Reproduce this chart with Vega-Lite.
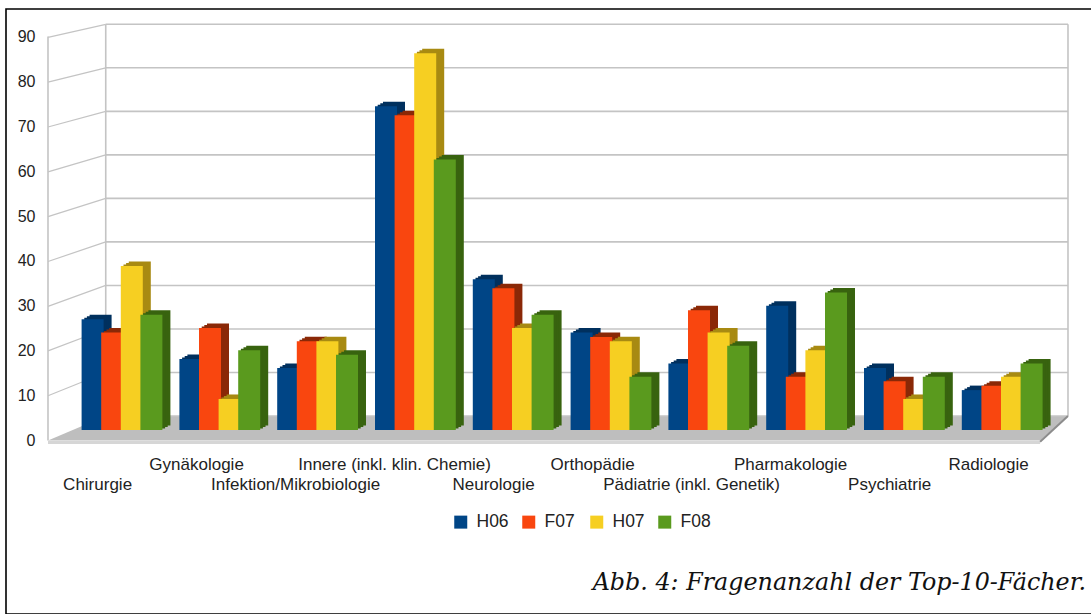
{"$schema":"https://vega.github.io/schema/vega-lite/v6.json","width":1090,"height":605,"padding":{"left":6,"top":9,"right":0,"bottom":0},"autosize":{"type":"none"},"background":"white","view":{"stroke":"#000","strokeWidth":1.6},
"title":{"text":"Abb. 4: Fragenanzahl der Top-10-Fächer.","orient":"bottom","anchor":"end","offset":-43,"dx":-10,"font":"DejaVu Serif","fontStyle":"italic","fontWeight":"normal","fontSize":23.8,"color":"#111"},
"config":{"axis":{"grid":false},"font":"Liberation Sans"},
"resolve":{"scale":{"x":"independent","y":"independent"},"axis":{"x":"independent","y":"independent"}},
"layer":[
{"data":{"values":[{"x":-0.6,"o":-5.62,"u":-5.62},{"x":0,"o":0,"u":-5.62},{"x":9.71,"o":0,"u":-5.62},{"x":10,"o":0,"u":0}]},"mark":{"type":"area","orient":"vertical","color":"#BEBEBE"},"encoding":{"x":{"field":"x","type":"quantitative","scale":{"domain":[-0.6,10],"range":[42,1062]},"axis":null},"y":{"field":"o","type":"quantitative","scale":{"domain":[0,90],"range":[407,15.3]},"axis":null},"y2":{"field":"u"}}},
{"data":{"values":[{"Wert":0},{"Wert":10},{"Wert":20},{"Wert":30},{"Wert":40},{"Wert":50},{"Wert":60},{"Wert":70},{"Wert":80},{"Wert":90}]},"mark":{"type":"rule","color":"#C4C4C4","strokeWidth":1.6},"encoding":{"x":{"datum":0,"type":"quantitative","scale":{"domain":[-0.6,10],"range":[42,1062]},"axis":null},"x2":{"datum":10},"y":{"field":"Wert","type":"quantitative","scale":{"domain":[0,90],"range":[407,15.3]},"axis":null}}},
{"data":{"values":[{"Wert":10,"vorn":4.66},{"Wert":20,"vorn":14.95},{"Wert":30,"vorn":25.2},{"Wert":40,"vorn":35.5},{"Wert":50,"vorn":45.8},{"Wert":60,"vorn":56.1},{"Wert":70,"vorn":66.4},{"Wert":80,"vorn":76.7},{"Wert":90,"vorn":87}]},"mark":{"type":"rule","color":"#C4C4C4","strokeWidth":1.2},"encoding":{"x":{"datum":-0.6,"type":"quantitative","scale":{"domain":[-0.6,10],"range":[42,1062]},"axis":null},"x2":{"datum":0},"y":{"field":"vorn","type":"quantitative","scale":{"domain":[0,90],"range":[407,15.3]},"axis":null},"y2":{"field":"Wert"}}},
{"data":{"values":[{"x":0},{"x":10}]},"mark":{"type":"rule","color":"#C4C4C4","strokeWidth":1.6},"encoding":{"x":{"field":"x","type":"quantitative","scale":{"domain":[-0.6,10],"range":[42,1062]},"axis":null},"y":{"datum":0,"type":"quantitative","scale":{"domain":[0,90],"range":[407,15.3]},"axis":null},"y2":{"datum":90}}},
{"data":{"values":[{"a":1}]},"mark":{"type":"rule","color":"#C4C4C4","strokeWidth":1.6},"encoding":{"x":{"datum":-0.6,"type":"quantitative","scale":{"domain":[-0.6,10],"range":[42,1062]},"axis":null},"y":{"datum":0,"type":"quantitative","scale":{"domain":[0,90],"range":[431.5,27.5]},"axis":{"orient":"left","offset":-42,"domain":false,"ticks":false,"title":null,"values":[0,10,20,30,40,50,60,70,80,90],"labelPadding":13,"labelFontSize":16,"labelColor":"#222","labelFont":"Liberation Sans"}},"y2":{"datum":90}}},
{"data":{"values":[{"a":1}]},"mark":{"type":"rule","color":"#D6D6D6","strokeWidth":3},"encoding":{"x":{"datum":-0.6,"type":"quantitative","scale":{"domain":[-0.6,10],"range":[42,1062]},"axis":null},"x2":{"datum":9.71},"y":{"datum":-6.1,"type":"quantitative","scale":{"domain":[0,90],"range":[407,15.3]},"axis":null}}},
{"data":{"values":[{"a":1}]},"mark":{"type":"rule","color":"#8C8C8C","strokeWidth":2},"encoding":{"x":{"datum":9.71,"type":"quantitative","scale":{"domain":[-0.6,10],"range":[42,1062]},"axis":null},"x2":{"datum":10},"y":{"datum":-5.9,"type":"quantitative","scale":{"domain":[0,90],"range":[407,15.3]},"axis":null},"y2":{"datum":0}}},
{"data":{"values":[
{"Fach":"Chirurgie","Serie":"H06","Anzahl":25},{"Fach":"Chirurgie","Serie":"F07","Anzahl":22},{"Fach":"Chirurgie","Serie":"H07","Anzahl":37},{"Fach":"Chirurgie","Serie":"F08","Anzahl":26},
{"Fach":"Gynäkologie","Serie":"H06","Anzahl":16},{"Fach":"Gynäkologie","Serie":"F07","Anzahl":23},{"Fach":"Gynäkologie","Serie":"H07","Anzahl":7},{"Fach":"Gynäkologie","Serie":"F08","Anzahl":18},
{"Fach":"Infektion/Mikrobiologie","Serie":"H06","Anzahl":14},{"Fach":"Infektion/Mikrobiologie","Serie":"F07","Anzahl":20},{"Fach":"Infektion/Mikrobiologie","Serie":"H07","Anzahl":20},{"Fach":"Infektion/Mikrobiologie","Serie":"F08","Anzahl":17},
{"Fach":"Innere (inkl. klin. Chemie)","Serie":"H06","Anzahl":73},{"Fach":"Innere (inkl. klin. Chemie)","Serie":"F07","Anzahl":71},{"Fach":"Innere (inkl. klin. Chemie)","Serie":"H07","Anzahl":85},{"Fach":"Innere (inkl. klin. Chemie)","Serie":"F08","Anzahl":61},
{"Fach":"Neurologie","Serie":"H06","Anzahl":34},{"Fach":"Neurologie","Serie":"F07","Anzahl":32},{"Fach":"Neurologie","Serie":"H07","Anzahl":23},{"Fach":"Neurologie","Serie":"F08","Anzahl":26},
{"Fach":"Orthopädie","Serie":"H06","Anzahl":22},{"Fach":"Orthopädie","Serie":"F07","Anzahl":21},{"Fach":"Orthopädie","Serie":"H07","Anzahl":20},{"Fach":"Orthopädie","Serie":"F08","Anzahl":12},
{"Fach":"Pädiatrie (inkl. Genetik)","Serie":"H06","Anzahl":15},{"Fach":"Pädiatrie (inkl. Genetik)","Serie":"F07","Anzahl":27},{"Fach":"Pädiatrie (inkl. Genetik)","Serie":"H07","Anzahl":22},{"Fach":"Pädiatrie (inkl. Genetik)","Serie":"F08","Anzahl":19},
{"Fach":"Pharmakologie","Serie":"H06","Anzahl":28},{"Fach":"Pharmakologie","Serie":"F07","Anzahl":12},{"Fach":"Pharmakologie","Serie":"H07","Anzahl":18},{"Fach":"Pharmakologie","Serie":"F08","Anzahl":31},
{"Fach":"Psychiatrie","Serie":"H06","Anzahl":14},{"Fach":"Psychiatrie","Serie":"F07","Anzahl":11},{"Fach":"Psychiatrie","Serie":"H07","Anzahl":7},{"Fach":"Psychiatrie","Serie":"F08","Anzahl":12},
{"Fach":"Radiologie","Serie":"H06","Anzahl":9},{"Fach":"Radiologie","Serie":"F07","Anzahl":10},{"Fach":"Radiologie","Serie":"H07","Anzahl":12},{"Fach":"Radiologie","Serie":"F08","Anzahl":15}
]},
"encoding":{"x":{"field":"Fach","type":"nominal","sort":null,"scale":{"type":"band","range":[67.1,1045.1],"paddingInner":0,"paddingOuter":0},"axis":{"orient":"bottom","offset":-169,"domain":false,"ticks":false,"title":null,"labelAngle":0,"labelPadding":0,"labelBaseline":"middle","labelOverlap":false,"labelBound":false,"labelLimit":0,"labelFontSize":17,"labelColor":"#222","labelFont":"Liberation Sans","encoding":{"labels":{"dx":{"value":{"signal":"-24.4+10.8*datum.index"}},"dy":{"value":{"signal":"round(datum.index*9)%2==0?39:19"}}}}}},"y":{"field":"Anzahl","type":"quantitative","scale":{"domain":[0,90],"range":[421,22]},"axis":null}},
"layer":[
{"transform":[{"filter":"datum.Serie=='H06'"}],"mark":{"type":"bar","width":22,"color":"#00305E","xOffset":-21.4,"yOffset":-4.5}},
{"transform":[{"filter":"datum.Serie=='H06'"}],"mark":{"type":"bar","width":22,"color":"#00305E","xOffset":-24.1,"yOffset":-3}},
{"transform":[{"filter":"datum.Serie=='H06'"}],"mark":{"type":"bar","width":22,"color":"#00305E","xOffset":-26.7,"yOffset":-1.5}},
{"transform":[{"filter":"datum.Serie=='H06'"}],"mark":{"type":"bar","width":22,"xOffset":-29.4},"encoding":{"color":{"field":"Serie","type":"nominal","scale":{"domain":["H06","F07","H07","F08"],"range":["#004586","#F9460F","#F6CF22","#5A9A1E"]},"legend":{"title":null,"orient":"none","legendX":446,"legendY":504,"direction":"horizontal","columns":4,"gridAlign":"all","symbolType":"square","symbolSize":169,"symbolStrokeWidth":0,"columnPadding":11,"labelFontSize":17.5,"labelColor":"#222","labelFont":"Liberation Sans","labelOffset":7,"symbolOpacity":1}}}},
{"transform":[{"filter":"datum.Serie=='F07'"}],"mark":{"type":"bar","width":22,"color":"#8A2807","xOffset":-1.8,"yOffset":-4.5}},
{"transform":[{"filter":"datum.Serie=='F07'"}],"mark":{"type":"bar","width":22,"color":"#8A2807","xOffset":-4.5,"yOffset":-3}},
{"transform":[{"filter":"datum.Serie=='F07'"}],"mark":{"type":"bar","width":22,"color":"#8A2807","xOffset":-7.1,"yOffset":-1.5}},
{"transform":[{"filter":"datum.Serie=='F07'"}],"mark":{"type":"bar","width":22,"xOffset":-9.8},"encoding":{"color":{"field":"Serie","type":"nominal"}}},
{"transform":[{"filter":"datum.Serie=='H07'"}],"mark":{"type":"bar","width":22,"color":"#A88A12","xOffset":17.8,"yOffset":-4.5}},
{"transform":[{"filter":"datum.Serie=='H07'"}],"mark":{"type":"bar","width":22,"color":"#A88A12","xOffset":15.1,"yOffset":-3}},
{"transform":[{"filter":"datum.Serie=='H07'"}],"mark":{"type":"bar","width":22,"color":"#A88A12","xOffset":12.5,"yOffset":-1.5}},
{"transform":[{"filter":"datum.Serie=='H07'"}],"mark":{"type":"bar","width":22,"xOffset":9.8},"encoding":{"color":{"field":"Serie","type":"nominal"}}},
{"transform":[{"filter":"datum.Serie=='F08'"}],"mark":{"type":"bar","width":22,"color":"#38630F","xOffset":37.4,"yOffset":-4.5}},
{"transform":[{"filter":"datum.Serie=='F08'"}],"mark":{"type":"bar","width":22,"color":"#38630F","xOffset":34.7,"yOffset":-3}},
{"transform":[{"filter":"datum.Serie=='F08'"}],"mark":{"type":"bar","width":22,"color":"#38630F","xOffset":32.1,"yOffset":-1.5}},
{"transform":[{"filter":"datum.Serie=='F08'"}],"mark":{"type":"bar","width":22,"xOffset":29.4},"encoding":{"color":{"field":"Serie","type":"nominal"}}}
]}
]}
